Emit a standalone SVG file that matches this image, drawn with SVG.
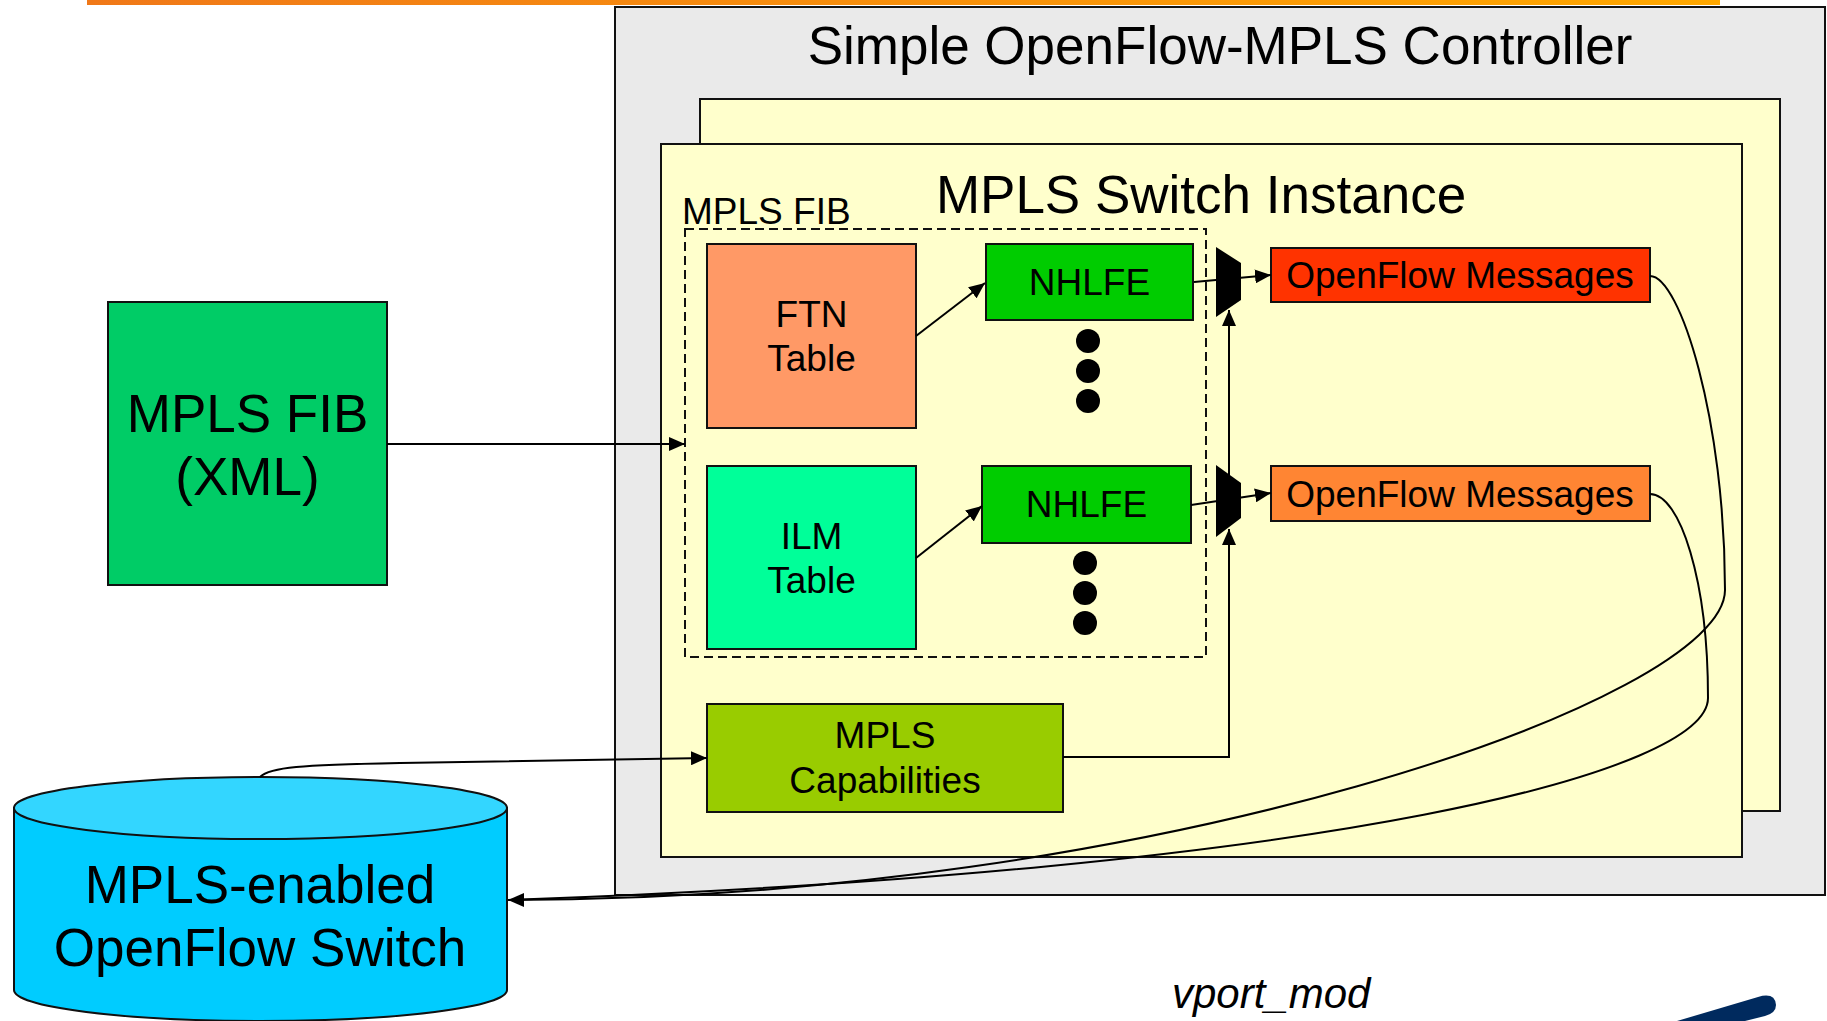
<svg xmlns="http://www.w3.org/2000/svg" width="1827" height="1021" viewBox="0 0 1827 1021">
<defs>
<linearGradient id="bar" x1="0" y1="0" x2="1" y2="0">
<stop offset="0" stop-color="#F07818"/>
<stop offset="1" stop-color="#FFA800"/>
</linearGradient>
<marker id="arr" viewBox="0 0 16 14" refX="16" refY="7" markerWidth="16" markerHeight="14" orient="auto" markerUnits="userSpaceOnUse">
<path d="M0,0 L16,7 L0,14 Z" fill="#000"/>
</marker>
</defs>
<style>
.box{stroke:#111;stroke-width:2}
.t{font-family:"Liberation Sans",Arial,sans-serif;fill:#000;text-anchor:middle}
.big{font-size:53px}
.med{font-size:37px}
.con{fill:none;stroke:#000;stroke-width:2}
</style>
<rect x="87" y="0" width="1633" height="5" fill="url(#bar)"/>
<g id="controller">
<rect x="615" y="7" width="1210" height="888" fill="#EAEAEA" class="box"/>
<text class="t big" x="1220" y="64">Simple OpenFlow-MPLS Controller</text>
</g>
<g id="switch-instance-back">
<rect x="700" y="99" width="1080" height="712" fill="#FFFFCC" class="box"/>
</g>
<g id="switch-instance">
<rect x="661" y="144" width="1081" height="713" fill="#FFFFCC" class="box"/>
<text class="t big" x="1201" y="213">MPLS Switch Instance</text>
</g>
<g id="mpls-fib-group">
<rect x="685" y="229" width="521" height="428" fill="none" stroke="#111" stroke-width="2" stroke-dasharray="9,5"/>
<text class="t med" x="682" y="224" style="text-anchor:start">MPLS FIB</text>
</g>
<g id="ftn-table">
<rect x="707" y="244" width="209" height="184" fill="#FF9966" class="box"/>
<text class="t med" x="811.5" y="327">FTN</text>
<text class="t med" x="811.5" y="371">Table</text>
</g>
<g id="ilm-table">
<rect x="707" y="466" width="209" height="183" fill="#00FF99" class="box"/>
<text class="t med" x="811.5" y="549">ILM</text>
<text class="t med" x="811.5" y="593">Table</text>
</g>
<g id="nhlfe-1">
<rect x="986" y="244" width="207" height="76" fill="#00CC00" class="box"/>
<text class="t med" x="1089.5" y="295">NHLFE</text>
</g>
<g id="dots-1">
<circle cx="1088" cy="341" r="12"/>
<circle cx="1088" cy="371" r="12"/>
<circle cx="1088" cy="401" r="12"/>
</g>
<g id="nhlfe-2">
<rect x="982" y="466" width="209" height="77" fill="#00CC00" class="box"/>
<text class="t med" x="1086.5" y="517">NHLFE</text>
</g>
<g id="dots-2">
<circle cx="1085" cy="563" r="12"/>
<circle cx="1085" cy="593" r="12"/>
<circle cx="1085" cy="623" r="12"/>
</g>
<g id="openflow-messages-1">
<rect x="1271" y="248" width="379" height="54" fill="#FF3300" class="box"/>
<text class="t med" x="1460" y="288">OpenFlow Messages</text>
</g>
<g id="openflow-messages-2">
<rect x="1271" y="466" width="379" height="55" fill="#FF8533" class="box"/>
<text class="t med" x="1460" y="507">OpenFlow Messages</text>
</g>
<g id="mpls-capabilities">
<rect x="707" y="704" width="356" height="108" fill="#99CC00" class="box"/>
<text class="t med" x="885" y="748">MPLS</text>
<text class="t med" x="885" y="793">Capabilities</text>
</g>
<g id="mpls-fib-xml">
<rect x="108" y="302" width="279" height="283" fill="#00CC66" class="box"/>
<text class="t big" x="247.5" y="432">MPLS FIB</text>
<text class="t big" x="247.5" y="495">(XML)</text>
</g>
<g id="openflow-switch">
<path d="M14,808 V990 A246.5,31 0 0 0 507,990 V808 Z" fill="#00CCFF" class="box"/>
<ellipse cx="260.5" cy="808" rx="246.5" ry="31" fill="#33D6FF" class="box"/>
<text class="t big" x="260" y="903">MPLS-enabled</text>
<text class="t big" x="260" y="966">OpenFlow Switch</text>
</g>
<g id="connectors">
<path class="con" d="M387,444 H685" marker-end="url(#arr)"/>
<path class="con" d="M916,336 L985,283" marker-end="url(#arr)"/>
<path class="con" d="M916,558 L982,506" marker-end="url(#arr)"/>
<path class="con" d="M1194,282 L1271,275" marker-end="url(#arr)"/>
<path class="con" d="M1191,505 L1271,493" marker-end="url(#arr)"/>
<path class="con" d="M1063,757 H1229 V529" marker-end="url(#arr)"/>
<path class="con" d="M1229,480 V310" marker-end="url(#arr)"/>
<path class="con" d="M260,777 C270,767 300,765 400,763 L707,758" marker-end="url(#arr)"/>
<path class="con" d="M1650,276 C1680,276 1725,420 1725,590 C1725,700 1150,900 508,900" marker-end="url(#arr)"/>
<path class="con" d="M1650,494 C1680,494 1708,580 1708,698 C1708,770 1350,870 508,900"/>
</g>
<g id="mux-1">
<path d="M1216,247 L1241,263 V300 L1216,317 Z" fill="#000"/>
</g>
<g id="mux-2">
<path d="M1216,465 L1241,483 V518 L1216,537 Z" fill="#000"/>
</g>
<g id="vport-mod-label">
<text class="t" x="1172" y="1008" style="text-anchor:start;font-size:42px;font-style:italic">vport_mod</text>
</g>
<path d="M1677,1021 L1758,997 Q1775,992 1776,1005 Q1776,1013 1765,1016 L1745,1021 Z" fill="#002A5E"/>
</svg>
